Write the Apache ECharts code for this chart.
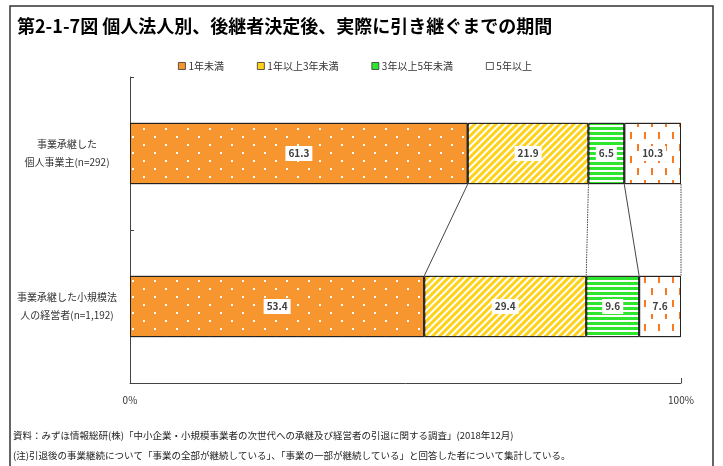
<!DOCTYPE html>
<html><head><meta charset="utf-8">
<script src="https://cdn.jsdelivr.net/npm/echarts@6/dist/echarts.min.js"></script>
<style>html,body{margin:0;padding:0;background:#fff}#c{width:723px;height:466px}</style>
</head><body><div id="c"></div>
<script>
const categories = ['事業承継した\n個人事業主(n=292)', '事業承継した小規模法\n人の経営者(n=1,192)'];
const seriesNames = ['1年未満', '1年以上3年未満', '3年以上5年未満', '5年以上'];
const s1 = [61.3, 53.4];
const s2 = [21.9, 29.4];
const s3 = [6.5, 9.6];
const s4 = [10.3, 7.6];
const xTicks = ['0%', '100%'];
const titleText = '第2-1-7図 個人法人別、後継者決定後、実際に引き継ぐまでの期間';
const note1 = '資料：みずほ情報総研(株)「中小企業・小規模事業者の次世代への承継及び経営者の引退に関する調査」(2018年12月)';
const note2 = '(注)引退後の事業継続について「事業の全部が継続している」、「事業の一部が継続している」と回答した者について集計している。';

const FONT = '"Noto Sans CJK JP", sans-serif';
const values = [s1, s2, s3, s4];
// cumulative boundaries for connector lines
const conn = [];
let c0 = 0, c1 = 0;
for (let i = 0; i < values.length; i++) {
  c0 += values[i][0]; c1 += values[i][1];
  conn.push([Math.round(c0 * 10) / 10, Math.round(c1 * 10) / 10, i]);
}
const styles = [
  {color: '#F7962E', decal: {symbol: 'rect', symbolSize: 1, color: '#ffffff', dashArrayX: [[2, 20], [0, 11, 2, 9]], dashArrayY: [2, 6]}},
  {color: '#FFD21A', decal: {symbol: 'rect', symbolSize: 1, color: '#ffffff', dashArrayX: [1, 0], dashArrayY: [2, 2.5], rotation: -Math.PI / 4}},
  {color: '#2EE62E', decal: {symbol: 'rect', symbolSize: 1, color: '#ffffff', dashArrayX: [1, 0], dashArrayY: [1.2, 2.8]}},
  {color: '#ffffff', decal: {symbol: 'rect', symbolSize: 1, color: '#F77A20', dashArrayX: [[2, 12], [0, 7, 2, 5]], dashArrayY: [7, 5]}}
];
const barSeries = values.map((v, i) => ({
  name: seriesNames[i], type: 'bar', stack: 'a', barWidth: '40%', data: v,
  itemStyle: {color: styles[i].color, decal: styles[i].decal, borderColor: '#222', borderWidth: 1},
  label: {show: true, position: 'inside', formatter: p => p.value.toFixed(1), backgroundColor: '#fff',
    padding: [3, 3, 2, 3], color: '#404040', fontWeight: 'bold', fontSize: 10, fontFamily: FONT},
  emphasis: {disabled: true}
}));
const chart = echarts.init(document.getElementById('c'));
chart.setOption({
  animation: false,
  aria: {enabled: false},
  title: {text: titleText, left: 12, top: 12, textStyle: {fontSize: 18, fontWeight: 'bold', color: '#000', fontFamily: FONT}},
  legend: {data: seriesNames, top: 56, left: 173, itemGap: 33, itemWidth: 7, itemHeight: 7, icon: 'rect',
    itemStyle: {borderWidth: 0.8, borderColor: '#333', decal: 'none'},
    textStyle: {fontSize: 10, color: '#333', fontFamily: FONT, padding: [0, 0, 0, -2]}},
  grid: {left: 130, right: 42, top: 77, bottom: 83},
  xAxis: {type: 'value', min: 0, max: 100, interval: 100,
    axisLine: {show: true, lineStyle: {color: '#444', width: 1}},
    axisTick: {show: true, inside: true, length: 5, lineStyle: {color: '#444'}},
    splitLine: {show: false},
    axisLabel: {formatter: v => xTicks[v === 0 ? 0 : 1], fontSize: 10, color: '#333', margin: 12, fontFamily: FONT}},
  yAxis: {type: 'category', data: categories, inverse: true,
    axisLine: {show: true, lineStyle: {color: '#444', width: 1}},
    axisTick: {show: true, inside: true, length: 4, lineStyle: {color: '#444'}},
    axisLabel: {align: 'center', margin: 63, fontSize: 10, lineHeight: 18, color: '#333', fontFamily: FONT}},
  series: barSeries.concat([{
    type: 'custom', silent: true, data: conn, encode: {x: [0, 1]},
    renderItem: function (params, api) {
      const a = api.value(0), b = api.value(1), k = api.value(2);
      const barH = api.size([0, 1])[1] * 0.4;
      const p0 = api.coord([a, 0]);
      const p1 = api.coord([b, 1]);
      return {type: 'line', shape: {x1: p0[0], y1: p0[1] + barH / 2, x2: p1[0], y2: p1[1] - barH / 2},
        style: {stroke: '#444', lineWidth: 1, lineDash: (k % 2 === 1) ? [1.5, 1] : null}};
    }
  }]),
  graphic: [
    {type: 'rect', shape: {x: 10, y: 6, width: 703, height: 470}, style: {fill: null, stroke: '#333', lineWidth: 1.5}, silent: true},
    {type: 'text', left: 13, top: 431, style: {text: note1, fontSize: 9.5, fill: '#222', fontFamily: FONT}},
    {type: 'text', left: 13, top: 451, style: {text: note2, fontSize: 9.5, fill: '#222', fontFamily: FONT}}
  ]
});
</script></body></html>
